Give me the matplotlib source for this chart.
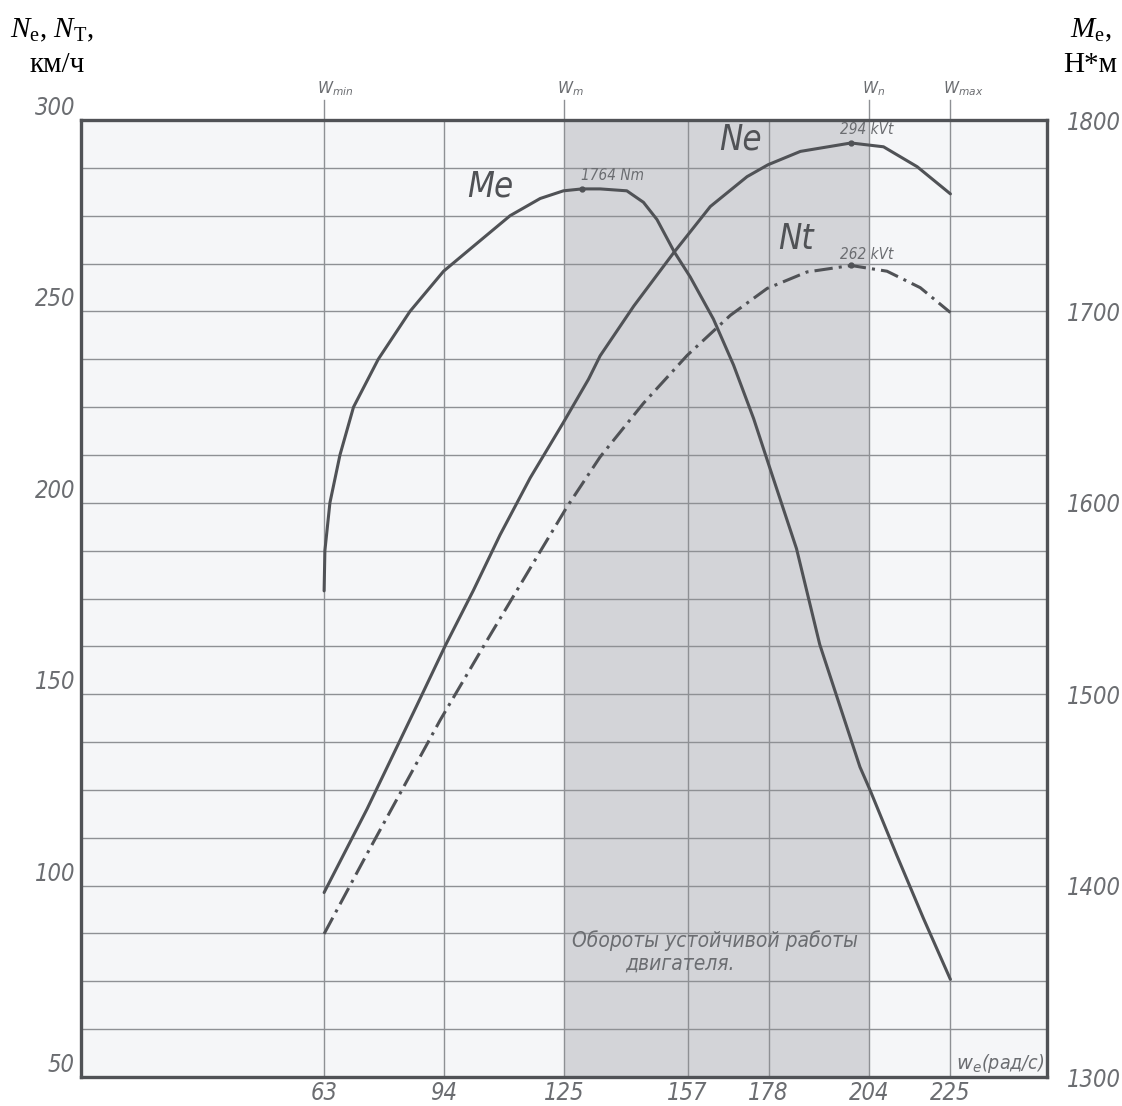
import numpy as np
import matplotlib.pyplot as plt
from matplotlib import transforms
from matplotlib.font_manager import FontProperties

plt.rcParams['mathtext.fontset'] = 'custom'
plt.rcParams['mathtext.rm'] = 'Liberation Serif'
plt.rcParams['mathtext.it'] = 'Liberation Serif:italic'
plt.rcParams['mathtext.sf'] = 'DejaVu Sans:italic'

# angular speed of the engine, rad/s
we_ne = [63, 74.1, 87, 94.3, 101.6, 108.5, 116.3, 124.9, 131.4, 134.4, 143.1,
         153.4, 162.9, 172.4, 177.8, 186.2, 199.3, 207.7, 216.4, 225]
ne = [98.2, 120, 147.1, 162.6, 177.1, 191.6, 206.5, 221, 232.3, 238.4, 251.4,
      265.3, 277.4, 285.2, 288.3, 291.8, 294, 293, 287.8, 280.7]

we_nt = [63, 74.1, 93.0, 105.1, 118.9, 125.8, 134.4, 145.6, 156.9, 168.1,
         177.6, 187.9, 199.3, 208.6, 217.2, 225]
nt = [87.4, 108.3, 143.2, 164, 187.3, 198.9, 212, 226, 238.5, 249, 256,
      260.3, 262, 260.5, 256.2, 249.7]

we_me = [63, 63.2, 64.5, 67.1, 70.6, 77.0, 85.2, 93.9, 101.6, 111.1, 118.9,
         124.9, 129.7, 134.4, 141.3, 145.6, 149.1, 153.6, 157.7, 163.7, 168.9,
         174.1, 178, 185.2, 191.2, 196.4, 201.6, 204.2, 211.1, 218, 225]
me = [1554, 1575, 1600, 1625, 1650, 1675, 1700, 1721, 1734, 1750, 1759,
      1763, 1764, 1764, 1763, 1757, 1748, 1731, 1718, 1696, 1672,
      1644, 1620, 1576, 1526, 1494, 1462, 1450, 1416, 1383, 1351]

x_ticks = [63, 94, 125, 157, 178, 204, 225]
top_ticks = [63, 125, 204, 225]
top_labels = [r'$\mathsf{W_{min}}$', r'$\mathsf{W_{m}}$', r'$\mathsf{W_{n}}$',
              r'$\mathsf{W_{max}}$']
left_ticks = [50, 100, 150, 200, 250, 300]
right_ticks = [1300, 1400, 1500, 1600, 1700, 1800]

ink = '#505256'
grey = '#6b6d71'
gridc = '#8e9094'

def tfont(size):
    return FontProperties(family='DejaVu Sans', style='italic',
                          stretch='condensed', size=size)

fig = plt.figure(figsize=(11.22, 11.06), dpi=100)
ax = fig.add_axes([0.0718, 0.0262, 0.8614, 0.8653])
ax.set_xlim(0, 250)
ax.set_ylim(50, 300)
ax.set_facecolor('#f5f6f8')
ax.axvspan(125, 204, color='#d3d4d8', zorder=0, lw=0)

ax.set_xticks(x_ticks)
ax.set_yticks(left_ticks)
ax.set_yticks(np.arange(50, 301, 12.5), minor=True)
ax.set_axisbelow(True)
ax.grid(which='both', axis='y', color=gridc, lw=1.0)
ax.grid(which='major', axis='x', color=gridc, lw=1.0)
ax.tick_params(which='both', length=0)
ax.tick_params(axis='x', pad=3)
ax.tick_params(axis='y', pad=4)
for lab in ax.get_xticklabels():
    lab.set_fontproperties(tfont(17))
    lab.set_color(grey)
for lab in ax.get_yticklabels():
    lab.set_fontproperties(tfont(17))
    lab.set_color(grey)
    lab.set_va('bottom')
for s in ax.spines.values():
    s.set_linewidth(2.4)
    s.set_color(ink)

ax2 = ax.twinx()
ax2.set_ylim(1300, 1800)
ax2.set_yticks(right_ticks)
ax2.tick_params(length=0, pad=14)
for lab in ax2.get_yticklabels():
    lab.set_fontproperties(tfont(17))
    lab.set_color(grey)
for s in ax2.spines.values():
    s.set_visible(False)

# curves
ax.plot(we_ne, ne, color=ink, lw=2.2, zorder=3, solid_capstyle='round')
ax.plot(we_nt, nt, color=ink, lw=2.2, zorder=3, dashes=(6, 2, 1, 2))
ax2.plot(we_me, me, color=ink, lw=2.2, zorder=3, solid_capstyle='round')

# peak points
ax2.plot(129.7, 1764, 'o', color=ink, ms=3.5, zorder=4)
ax.plot(199.3, 294, 'o', color=ink, ms=3.5, zorder=4)
ax.plot(199.3, 262, 'o', color=ink, ms=3.5, zorder=4)
ax2.text(137.5, 1771, '1764 Nm', fontproperties=tfont(11), color=grey,
         ha='center', va='center')
ax.text(203.3, 297.4, '294 kVt', fontproperties=tfont(11), color=grey,
        ha='center', va='center')
ax.text(203.3, 264.9, '262 kVt', fontproperties=tfont(11), color=grey,
        ha='center', va='center')

# curve names
ax.text(105.9, 282.6, 'Me', fontproperties=tfont(25), color=ink,
        ha='center', va='center')
ax.text(170.7, 294.8, 'Ne', fontproperties=tfont(25), color=ink,
        ha='center', va='center')
ax.text(185.1, 268.8, 'Nt', fontproperties=tfont(25), color=ink,
        ha='center', va='center')

ax.text(164.2, 85.6, 'Обороты устойчивой работы', fontproperties=tfont(15),
        color=grey, ha='center', va='center')
ax.text(155.1, 79.6, 'двигателя.', fontproperties=tfont(15),
        color=grey, ha='center', va='center')
ax.text(249.3, 53.6, r'$\mathsf{w_e}$(рад/с)', fontproperties=tfont(14),
        color=grey, ha='right', va='center')

# top markers
trans = transforms.blended_transform_factory(ax.transData, ax.transAxes)
for x, lab in zip(top_ticks, top_labels):
    ax.plot([x, x], [1.0, 1.021], transform=trans, color=gridc, lw=1.0,
            clip_on=False)
    ax.text(x - 1.8, 1.023, lab, transform=trans, color=grey, fontsize=11,
            ha='left', va='bottom')

# axis titles
serif = 'Liberation Serif'
fig.text(10 / 1122, 1 - 30 / 1106, r'$N_{\mathrm{e}}$, $N_{\mathrm{T}}$,',
         family=serif, fontsize=21, va='center', ha='left')
fig.text(57 / 1122, 1 - 65 / 1106, 'км/ч', family=serif, fontsize=21,
         va='center', ha='center')
fig.text(1112 / 1122, 1 - 30 / 1106, r'$M_{\mathrm{e}}$,', family=serif,
         fontsize=21, va='center', ha='right')
fig.text(1117 / 1122, 1 - 65 / 1106, 'Н*м', family=serif, fontsize=21,
         va='center', ha='right')

fig.savefig('out.png', dpi=100, facecolor='white')
